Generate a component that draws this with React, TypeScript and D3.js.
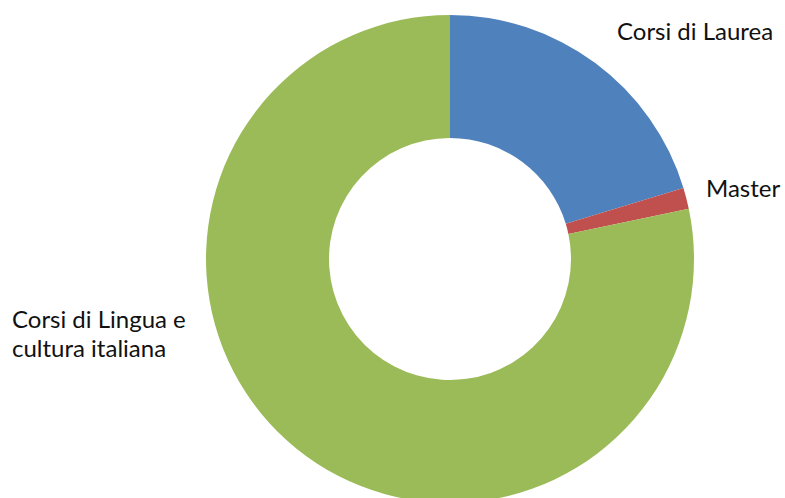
import React from "react";
import * as d3 from "d3";

const categories = ["Corsi di Laurea", "Master", "Corsi di Lingua e cultura italiana"];
const values = [20.3, 1.4, 78.3];
const colors = ["#4F81BD", "#C0504D", "#9BBB59"];
const labelLines = [["Corsi di Laurea"], ["Master"], ["Corsi di Lingua e", "cultura italiana"]];

const W = 785;
const H = 498;
const cx = 450;
const cy = 259;
const R = 244;
const r = 121;

export default function App() {
  const pie = d3.pie<number>().sort(null).value((d) => d)(values);
  const arc = d3.arc<d3.PieArcDatum<number>>().innerRadius(r).outerRadius(R);
  const labelPos = [
    { x: 617, y: 40, anchor: "start" },
    { x: 706, y: 197, anchor: "start" },
    { x: 12, y: 328, anchor: "start" },
  ];
  return (
    <svg width={W} height={H} style={{ position: "absolute", left: 0, top: 0, background: "#fff" }}>
      <g transform={`translate(${cx},${cy})`}>
        {pie.map((p, i) => (
          <path key={categories[i]} d={arc(p) || ""} fill={colors[i]} />
        ))}
      </g>
      {labelLines.map((lines, i) => (
        <text
          key={i}
          x={labelPos[i].x}
          y={labelPos[i].y}
          textAnchor={labelPos[i].anchor as any}
          fontFamily="Lato, 'Open Sans', sans-serif"
          fontSize={24}
          fill="#111"
        >
          {lines.map((l, j) => (
            <tspan key={j} x={labelPos[i].x} dy={j === 0 ? 0 : 29}>
              {l}
            </tspan>
          ))}
        </text>
      ))}
    </svg>
  );
}
